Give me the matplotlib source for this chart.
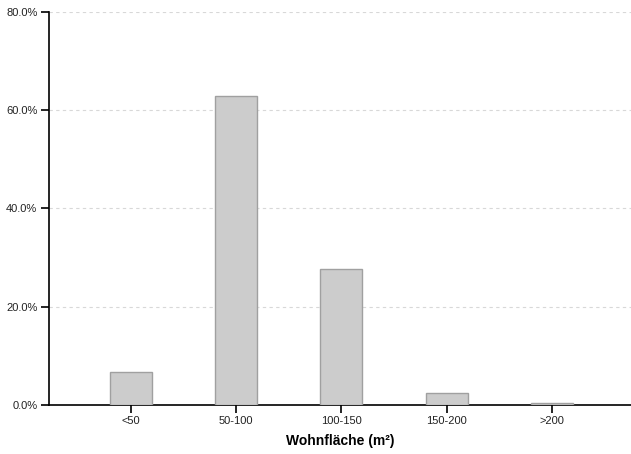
import matplotlib.pyplot as plt
from matplotlib.ticker import PercentFormatter

plt.rcParams['font.family'] = ['Liberation Sans', 'DejaVu Sans']

categories = ['<50', '50-100', '100-150', '150-200', '>200']
shares = [6.7, 62.9, 27.6, 2.5, 0.3]

fig = plt.figure(figsize=(6.31, 4.54), dpi=100)
ax = fig.add_axes([0.0769, 0.108, 0.9231, 0.8656])

x = list(range(len(categories)))
ax.bar(x, shares, width=0.4, color='#cccccc', edgecolor='#a0a0a0', linewidth=1, zorder=3)

ax.set_xlim(-0.78, 4.75)
ax.set_ylim(0, 80)
ax.set_yticks([0, 20, 40, 60, 80])
ax.yaxis.set_major_formatter(PercentFormatter(decimals=1))
ax.set_xticks(x)
ax.set_xticklabels(categories)
ax.yaxis.grid(True, linestyle=(0, (3, 3)), color='#d8d8d8', linewidth=0.8, zorder=0)

for side in ['top', 'right']:
    ax.spines[side].set_visible(False)
for side in ['left', 'bottom']:
    ax.spines[side].set_linewidth(1.2)
ax.tick_params(labelsize=8, length=6, width=1.2, pad=2, colors='black', labelcolor='#222222')
ax.set_xlabel('Wohnfläche (m²)', fontsize=10, fontweight='bold', labelpad=6)

fig.savefig('out.png', dpi=100)
